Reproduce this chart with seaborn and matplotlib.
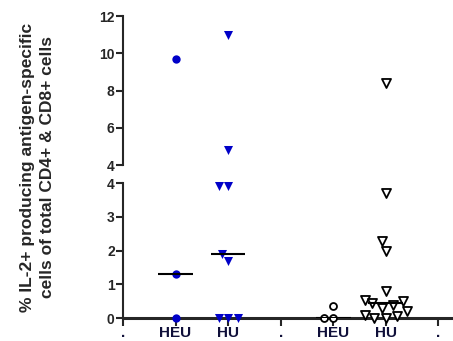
import numpy as np
import pandas as pd
import seaborn as sns
import matplotlib.pyplot as plt

# categories on the x axis (empty slots are only spacers)
order = ['s0', 'HEU1', 'HU1', 's1', 'HEU2', 'HU2', 's2']
tick_labels = ['.', 'HEU', 'HU', '.', 'HEU', 'HU', '.']

# values (% IL-2+ cells)
heu1 = [9.7, 1.3, 0.0]
hu1 = [11.0, 4.8, 3.9, 3.9, 1.9, 1.7, 0.0, 0.0, 0.0]
heu2 = [0.35, 0.0, 0.0]
hu2 = [8.4, 3.7, 2.3, 2.0, 0.8, 0.55, 0.5, 0.45, 0.4, 0.3, 0.2, 0.1, 0.05, 0.0, 0.0]

groups = {
    'HEU1': dict(vals=heu1, marker='o', fc='#0000c8', ec='#0000c8', size=6),
    'HU1': dict(vals=hu1, marker='v', fc='#0000c8', ec='#0000c8', size=6.5),
    'HEU2': dict(vals=heu2, marker='o', fc='white', ec='black', size=5),
    'HU2': dict(vals=hu2, marker='v', fc='white', ec='black', size=6.5),
}

sns.set_style('ticks')
plt.rcParams['font.family'] = ['Liberation Sans', 'DejaVu Sans']
plt.rcParams['font.weight'] = 'bold'

fig = plt.figure(figsize=(4.53, 3.41), dpi=100)
ax_top = fig.add_axes([0.2715, 0.516, 0.7285, 0.437])
ax_bot = fig.add_axes([0.2715, 0.067, 0.7285, 0.396])

split = 4.0
for name, g in groups.items():
    df = pd.DataFrame({'grp': name, 'val': g['vals']})
    hi = df[df['val'] > split]
    lo = df[df['val'] <= split]
    for ax, sub in [(ax_top, hi), (ax_bot, lo)]:
        if len(sub) == 0:
            continue
        sns.swarmplot(data=sub, x='grp', y='val', order=order, ax=ax,
                      marker=g['marker'], color=g['fc'], edgecolor=g['ec'],
                      linewidth=1.3 if g['fc'] == 'white' else 0,
                      size=g['size'], clip_on=False, zorder=3)
    # median line
    med = np.median(g['vals'])
    pos = order.index(name)
    ax_m = ax_top if med > split else ax_bot
    ax_m.hlines(med, pos - 0.33, pos + 0.33, color='black', lw=1.5, zorder=4)

for ax in (ax_top, ax_bot):
    ax.set_xlim(0, 6.28)
    ax.set_xlabel('')
    ax.set_ylabel('')
    sns.despine(ax=ax, right=True, top=True)
    ax.spines['left'].set_linewidth(1.5)
    ax.tick_params(axis='y', direction='out', length=5, width=1.5,
                   labelsize=10, pad=1)

ax_top.set_ylim(4, 12)
ax_top.set_yticks([4, 6, 8, 10, 12])
ax_top.spines['bottom'].set_visible(False)
ax_top.set_xticks([])

ax_bot.set_ylim(0, 4)
ax_bot.set_yticks([0, 1, 2, 3, 4])
ax_bot.spines['bottom'].set_linewidth(2.2)
ax_bot.set_xticks(range(len(order)))
ax_bot.set_xticklabels(tick_labels, fontsize=11, fontweight='bold',
                       color='#10103a')
ax_bot.tick_params(axis='x', direction='out', length=6, width=1.5, pad=0)

for ax in (ax_top, ax_bot):
    for lab in ax.get_yticklabels():
        lab.set_fontweight('bold')

fig.text(0.083, 0.51,
         '% IL-2+ producing antigen-specific\ncells of total CD4+ & CD8+ cells',
         rotation=90, ha='center', va='center', fontsize=12.5,
         fontweight='bold', linespacing=1.45)

fig.savefig('out.png', dpi=100)
